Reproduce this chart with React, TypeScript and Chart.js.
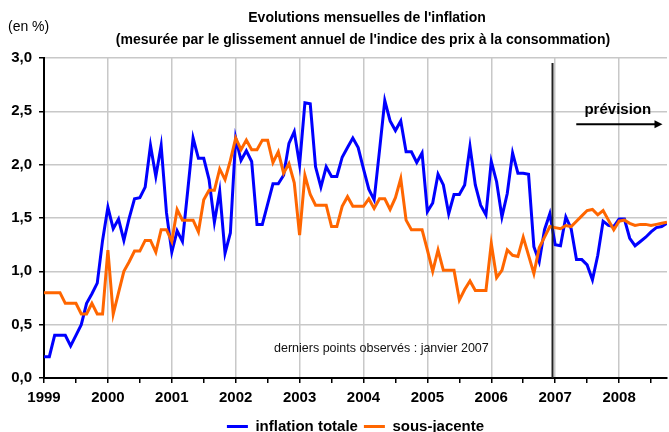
import React, { useEffect, useRef } from 'react';
import { Chart, registerables } from 'chart.js';

Chart.register(...registerables);

const FONT = "'Liberation Sans', Arial, Helvetica, sans-serif";

const START_YEAR = 1999;

// Monthly values, January 1999 -> October 2008
const inflationTotale = [
  0.20, 0.20, 0.40, 0.40, 0.40, 0.30, 0.40, 0.50, 0.70, 0.79, 0.89, 1.29,
  1.60, 1.40, 1.49, 1.29, 1.50, 1.68, 1.69, 1.79, 2.18, 1.89, 2.18, 1.55,
  1.18, 1.38, 1.28, 1.76, 2.25, 2.06, 2.06, 1.86, 1.46, 1.75, 1.17, 1.36,
  2.25, 2.04, 2.13, 2.03, 1.44, 1.44, 1.63, 1.82, 1.82, 1.90, 2.20, 2.31,
  2.00, 2.58, 2.57, 1.98, 1.79, 1.98, 1.89, 1.89, 2.07, 2.16, 2.25, 2.16,
  1.96, 1.77, 1.67, 2.13, 2.60, 2.41, 2.32, 2.41, 2.12, 2.12, 2.02, 2.11,
  1.56, 1.64, 1.91, 1.81, 1.54, 1.72, 1.72, 1.81, 2.17, 1.81, 1.62, 1.53,
  2.03, 1.84, 1.51, 1.73, 2.11, 1.92, 1.92, 1.91, 1.23, 1.09, 1.39, 1.54,
  1.25, 1.24, 1.51, 1.40, 1.11, 1.11, 1.06, 0.92, 1.15, 1.47, 1.43, 1.42,
  1.49, 1.49, 1.31, 1.24, 1.28, 1.32, 1.37, 1.41, 1.42, 1.45,
];

const sousJacente = [
  0.80, 0.80, 0.80, 0.80, 0.70, 0.70, 0.70, 0.60, 0.60, 0.70, 0.60, 0.60,
  1.20, 0.60, 0.80, 1.00, 1.09, 1.19, 1.19, 1.29, 1.29, 1.18, 1.39, 1.39,
  1.28, 1.58, 1.48, 1.48, 1.48, 1.37, 1.67, 1.76, 1.76, 1.96, 1.86, 2.04,
  2.25, 2.14, 2.23, 2.14, 2.14, 2.23, 2.23, 2.02, 2.12, 1.92, 2.01, 1.83,
  1.34, 1.90, 1.72, 1.62, 1.62, 1.62, 1.42, 1.42, 1.61, 1.70, 1.61, 1.61,
  1.61, 1.68, 1.59, 1.68, 1.68, 1.58, 1.69, 1.87, 1.48, 1.39, 1.39, 1.39,
  1.20, 1.00, 1.20, 1.01, 1.01, 1.01, 0.73, 0.83, 0.91, 0.82, 0.82, 0.82,
  1.26, 0.94, 1.01, 1.20, 1.15, 1.14, 1.32, 1.15, 0.98, 1.22, 1.32, 1.42,
  1.41, 1.40, 1.43, 1.42, 1.47, 1.52, 1.57, 1.58, 1.53, 1.57, 1.48, 1.39,
  1.47, 1.48, 1.45, 1.43, 1.44, 1.44, 1.43, 1.44, 1.45, 1.46,
];

const xTickValues = [
  1999, 1999.5, 2000, 2000.5, 2001, 2001.5, 2002, 2002.5, 2003, 2003.5,
  2004, 2004.5, 2005, 2005.5, 2006, 2006.5, 2007, 2007.5, 2008, 2008.5,
];
const yTickValues = [0, 0.5, 1.0, 1.5, 2.0, 2.5, 3.0];

const seriesLabels = ['inflation totale', 'sous-jacente'];
const titleLines = [
  "Evolutions mensuelles de l'inflation",
  "(mesurée par le glissement annuel de l'indice des prix à la consommation)",
];
const unitLabel = '(en %)';
const forecastLabel = 'prévision';
const noteLabel = 'derniers points observés : janvier 2007';
const lastObservationBoundary = 2006 + 11.5 / 12;

export default function App() {
  const ref = useRef<HTMLCanvasElement | null>(null);

  useEffect(() => {
    document.body.style.margin = '0';
    if (!ref.current) return;

    const xValues = inflationTotale.map((_, i) => START_YEAR + i / 12);
    const xMax = xValues[xValues.length - 1];

    const annotations = {
      id: 'annotations',
      afterDatasetsDraw(chart: any) {
        const { ctx, chartArea, scales } = chart;
        const xs = scales.x;
        const ys = scales.y;
        ctx.save();
        // vertical separator
        const vx = xs.getPixelForValue(lastObservationBoundary);
        ctx.strokeStyle = '#222';
        ctx.lineWidth = 2;
        ctx.beginPath();
        ctx.moveTo(vx, chartArea.top + 5);
        ctx.lineTo(vx, chartArea.bottom);
        ctx.stroke();

        // forecast arrow
        const ax1 = xs.getPixelForValue(2007.33);
        const ax2 = xs.getPixelForValue(2008.68);
        const ay = ys.getPixelForValue(2.38);
        ctx.strokeStyle = '#000';
        ctx.fillStyle = '#000';
        ctx.lineWidth = 2;
        ctx.beginPath();
        ctx.moveTo(ax1, ay);
        ctx.lineTo(ax2 - 6, ay);
        ctx.stroke();
        ctx.beginPath();
        ctx.moveTo(ax2, ay);
        ctx.lineTo(ax2 - 8, ay - 4);
        ctx.lineTo(ax2 - 8, ay + 4);
        ctx.closePath();
        ctx.fill();

        ctx.font = `bold 15px ${FONT}`;
        ctx.textAlign = 'center';
        ctx.textBaseline = 'middle';
        ctx.fillText(forecastLabel, xs.getPixelForValue(2007.98), ys.getPixelForValue(2.51));

        ctx.font = `12.5px ${FONT}`;
        ctx.textAlign = 'left';
        ctx.fillStyle = '#111';
        ctx.fillText(noteLabel, xs.getPixelForValue(2002.6), ys.getPixelForValue(0.28));
        ctx.restore();
      },
      afterDraw(chart: any) {
        const { ctx } = chart;
        ctx.save();
        ctx.fillStyle = '#000';
        ctx.textBaseline = 'middle';
        ctx.textAlign = 'center';
        ctx.font = `bold 14px ${FONT}`;
        ctx.fillText(titleLines[0], 367, 18);
        ctx.fillText(titleLines[1], 363, 40);
        ctx.textAlign = 'left';
        ctx.font = `14px ${FONT}`;
        ctx.fillText(unitLabel, 8, 27);
        ctx.restore();
      },
    };

    const chart = new Chart(ref.current, {
      type: 'line',
      data: {
        datasets: [
          {
            label: seriesLabels[0],
            data: inflationTotale.map((v, i) => ({ x: xValues[i], y: v })),
            borderColor: '#0000FF',
            backgroundColor: '#0000FF',
            borderWidth: 3,
            pointRadius: 0,
            tension: 0,
            order: 1,
          },
          {
            label: seriesLabels[1],
            data: sousJacente.map((v, i) => ({ x: xValues[i], y: v })),
            borderColor: '#FF6600',
            backgroundColor: '#FF6600',
            borderWidth: 3,
            pointRadius: 0,
            tension: 0,
            order: 0,
          },
        ],
      },
      options: {
        animation: false,
        responsive: false,
        events: [],
        layout: { padding: { top: 58, right: 2, left: 0, bottom: 0 } },
        plugins: {
          title: { display: false },
          tooltip: { enabled: false },
          legend: {
            position: 'bottom',
            fullSize: false,
            maxHeight: 19,
            labels: {
              usePointStyle: true,
              pointStyle: 'line',
              pointStyleWidth: 21,
              padding: 6,
              color: '#000',
              font: { family: FONT, size: 15, weight: 'bold' },
              sort: (a: any, b: any) => a.datasetIndex - b.datasetIndex,
            },
          },
        },
        scales: {
          x: {
            type: 'linear',
            min: START_YEAR,
            max: xMax,
            afterBuildTicks: (s: any) => {
              s.ticks = xTickValues.map((v) => ({ value: v }));
            },
            afterFit: (s: any) => {
              s.height = 35;
            },
            ticks: {
              autoSkip: false,
              maxRotation: 0,
              padding: 6,
              color: '#000',
              font: { family: FONT, size: 15, weight: 'bold' },
              callback: (v: any) => (Number.isInteger(v) ? String(v) : ''),
            },
            grid: {
              color: (c: any) =>
                c.tick && Number.isInteger(c.tick.value) ? '#c8c8c8' : 'rgba(0,0,0,0)',
              tickColor: '#000',
              tickLength: 5,
              lineWidth: 1.5,
            },
            border: { color: '#000', width: 2 },
          },
          y: {
            min: 0,
            max: 3,
            afterBuildTicks: (s: any) => {
              s.ticks = yTickValues.map((v) => ({ value: v }));
            },
            afterFit: (s: any) => {
              s.width = 44;
            },
            ticks: {
              padding: 7,
              color: '#000',
              font: { family: FONT, size: 15, weight: 'bold' },
              callback: (v: any) => Number(v).toFixed(1).replace('.', ','),
            },
            grid: {
              color: '#c8c8c8',
              tickColor: '#000',
              tickLength: 5,
              lineWidth: 1.5,
            },
            border: { color: '#000', width: 2 },
          },
        },
      },
      plugins: [annotations],
    } as any);

    return () => chart.destroy();
  }, []);

  return (
    <div style={{ width: 669, height: 432 }}>
      <canvas ref={ref} width={669} height={432} style={{ display: 'block' }} />
    </div>
  );
}
